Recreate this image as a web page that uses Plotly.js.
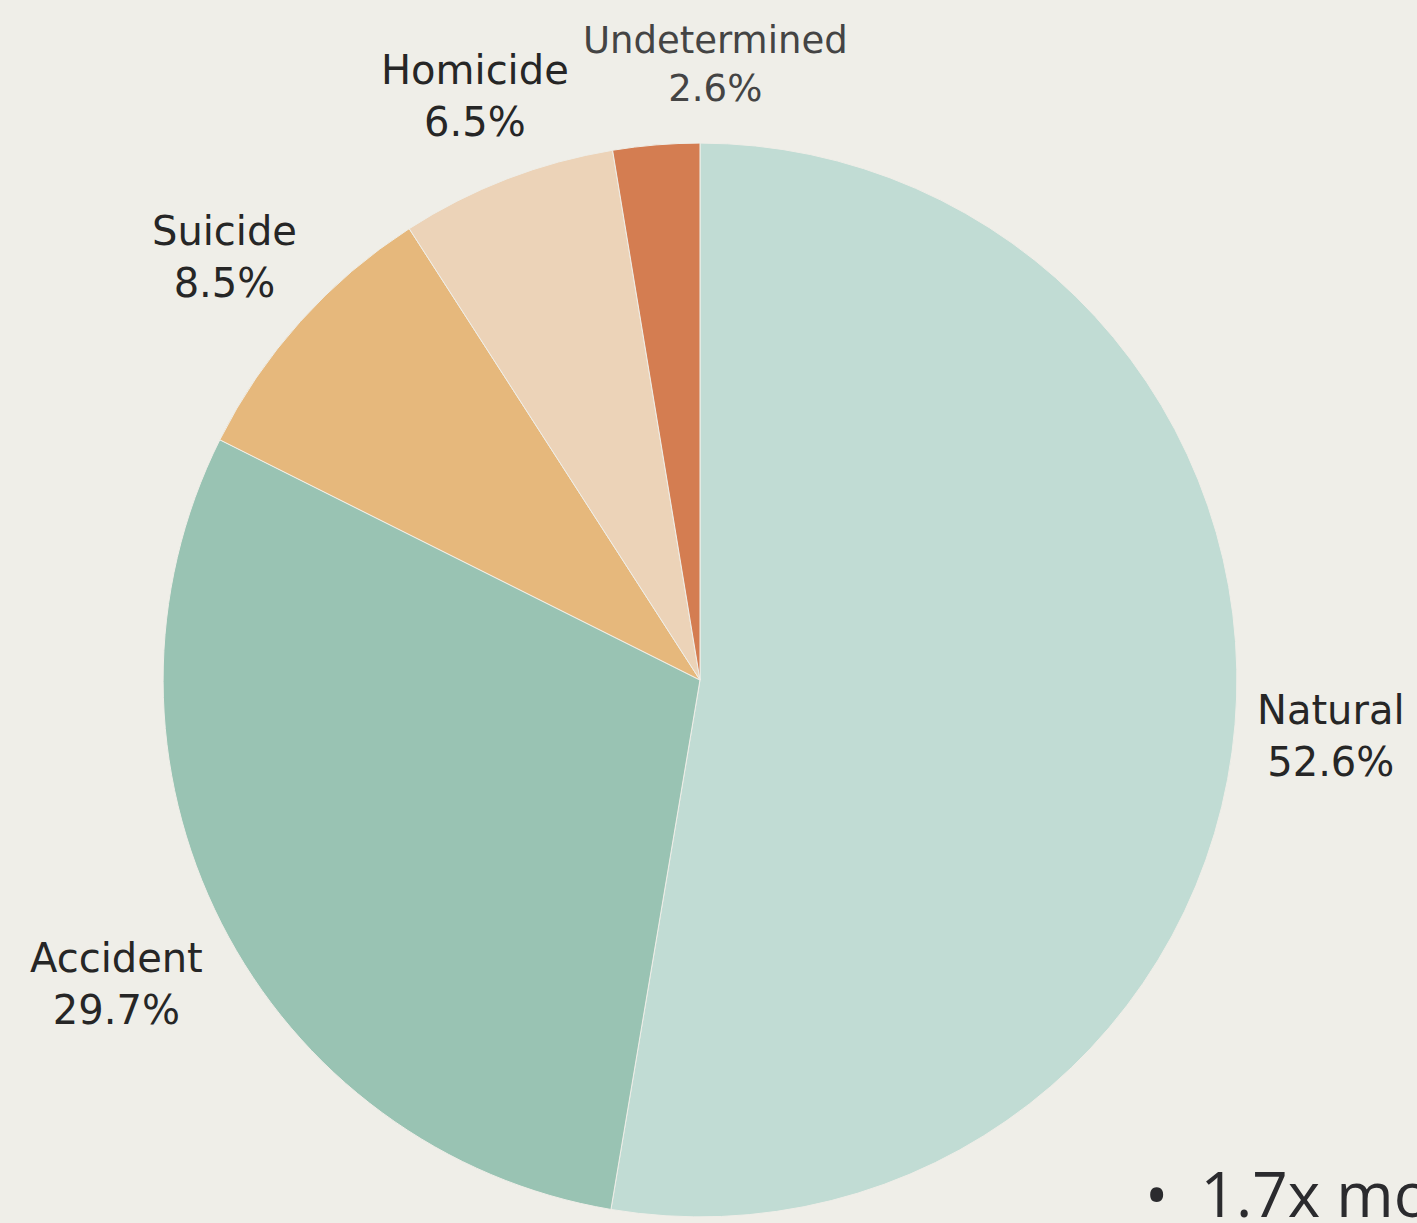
<!DOCTYPE html>
<html>
<head>
<meta charset="utf-8">
<script src="https://cdn.plot.ly/plotly-3.0.1.min.js"></script>
<style>html,body{margin:0;padding:0;background:#efeee8;}#chart{width:1417px;height:1223px;}</style>
</head>
<body>
<div id="chart"></div>
<script>
const categories = ["Natural", "Accident", "Suicide", "Homicide", "Undetermined"];
const shares = [52.6, 29.7, 8.5, 6.5, 2.6];
const sliceColors = ["#c1dcd4", "#99c3b3", "#e6b87c", "#ecd3b8", "#d47d51"];
const sideNote = "•  1.7x more";

// label placement styling (distance factor from pie centre, extra nudges in px)
const labelDist = [1.18, 1.22, 1.19, 1.165, 1.15];
const labelNudgeX = [0, 0, 0, 0, 66];
const labelNudgeY = [-3, -7, -4, 0, 0];
const labelSizes = [40, 40, 40, 40, 37];
const labelColors = ["#262626", "#262626", "#262626", "#262626", "#444444"];

const W = 1417, H = 1223;
const dom = {x: [0.115, 0.873], y: [0.005, 0.883]};
const cx = (dom.x[0] + dom.x[1]) / 2;
const cy = (dom.y[0] + dom.y[1]) / 2;
const Rpx = Math.min((dom.x[1] - dom.x[0]) * W, (dom.y[1] - dom.y[0]) * H) / 2;

const total = shares.reduce((a, b) => a + b, 0);
let cum = 0;
const annotations = categories.map((c, i) => {
  const mid = (cum + shares[i] / 2) / total * 2 * Math.PI;
  cum += shares[i];
  const d = labelDist[i] * Rpx;
  return {
    xref: "paper", yref: "paper",
    x: cx + d * Math.sin(mid) / W,
    y: cy + d * Math.cos(mid) / H,
    xanchor: "center", yanchor: "middle",
    xshift: labelNudgeX[i],
    yshift: labelNudgeY[i],
    showarrow: false,
    align: "center",
    text: c + "<br>" + shares[i].toFixed(1) + "%",
    font: {family: "DejaVu Sans, sans-serif", size: labelSizes[i], color: labelColors[i]}
  };
});

annotations.push({
  xref: "paper", yref: "paper", x: 1143 / W, y: 0, xanchor: "left", yanchor: "bottom",
  yshift: -14,
  text: sideNote, showarrow: false,
  font: {family: "Open Sans, Lato, sans-serif", size: 62, color: "#2b2b2e"}
});

const data = [{
  type: "pie",
  labels: categories,
  values: shares,
  sort: false,
  direction: "clockwise",
  rotation: 0,
  marker: {colors: sliceColors, line: {color: "#efeee8", width: 1}},
  textinfo: "none",
  hoverinfo: "label+percent",
  domain: dom,
  automargin: false
}];

const layout = {
  width: W, height: H,
  margin: {l: 0, r: 0, t: 0, b: 0},
  paper_bgcolor: "#efeee8",
  plot_bgcolor: "#efeee8",
  showlegend: false,
  annotations: annotations
};

Plotly.newPlot("chart", data, layout, {displayModeBar: false, staticPlot: true});
</script>
</body>
</html>
